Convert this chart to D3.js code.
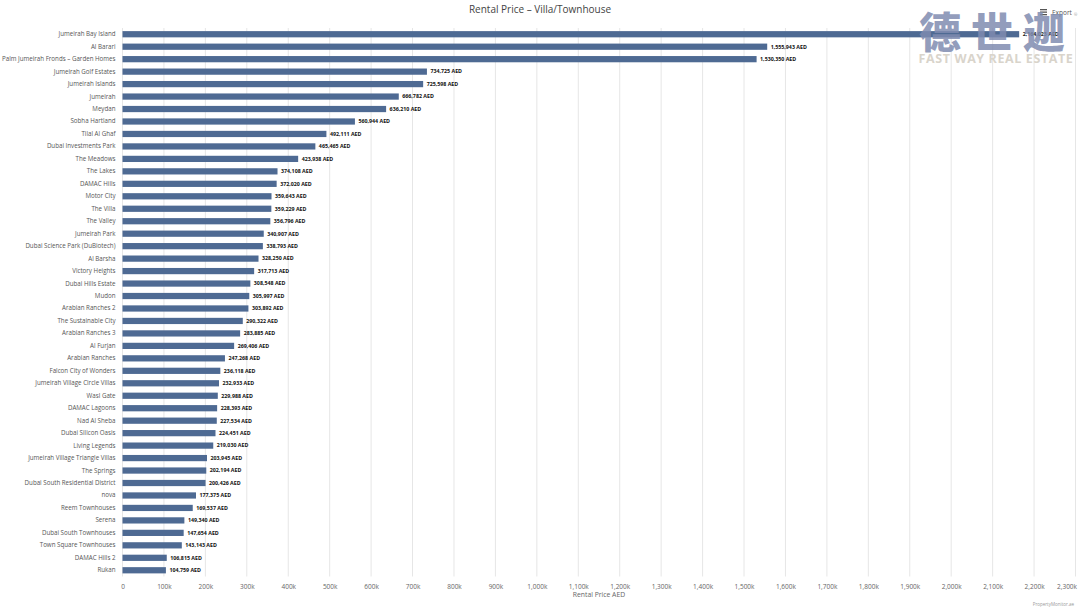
<!DOCTYPE html>
<html>
<head>
<meta charset="utf-8">
<script src="https://cdn.jsdelivr.net/npm/d3@7"></script>
<style>
  body { margin: 0; background: #fff; }
  svg { display: block; font-family: "Open Sans", "DejaVu Sans", sans-serif; }
</style>
</head>
<body>
<div id="chart"></div>
<script>
"use strict";

var communities = [
  "Jumeirah Bay Island", "Al Barari", "Palm Jumeirah Fronds \u2013 Garden Homes",
  "Jumeirah Golf Estates", "Jumeirah Islands", "Jumeirah", "Meydan", "Sobha Hartland",
  "Tilal Al Ghaf", "Dubai Investments Park", "The Meadows", "The Lakes", "DAMAC Hills",
  "Motor City", "The Villa", "The Valley", "Jumeirah Park", "Dubai Science Park (DuBiotech)",
  "Al Barsha", "Victory Heights", "Dubai Hills Estate", "Mudon", "Arabian Ranches 2",
  "The Sustainable City", "Arabian Ranches 3", "Al Furjan", "Arabian Ranches",
  "Falcon City of Wonders", "Jumeirah Village Circle Villas", "Wasl Gate", "DAMAC Lagoons",
  "Nad Al Sheba", "Dubai Silicon Oasis", "Living Legends", "Jumeirah Village Triangle Villas",
  "The Springs", "Dubai South Residential District", "nova", "Reem Townhouses", "Serena",
  "Dubai South Townhouses", "Town Square Townhouses", "DAMAC Hills 2", "Rukan"
];

var rentValues = [
  2164023, 1555943, 1530350, 734725, 725598, 666782, 636210, 560944,
  492111, 465465, 423938, 374108, 372020, 359643, 359229, 356796,
  340907, 338793, 328250, 317713, 308548, 305997, 303892, 290322,
  283885, 269406, 247268, 236118, 232933, 229988, 228393, 227534,
  224451, 219030, 203945, 202194, 200426, 177375, 169537, 149340,
  147654, 143143, 106815, 104759
];

var xTicks = [0, 100000, 200000, 300000, 400000, 500000, 600000, 700000, 800000, 900000,
  1000000, 1100000, 1200000, 1300000, 1400000, 1500000, 1600000, 1700000, 1800000,
  1900000, 2000000, 2100000, 2200000, 2300000];

var barColor = "#4e6a93";
var W = 1080, H = 608;
var plotLeft = 122.5, plotRight = 1075.5, plotTop = 28, plotBottom = 576.5;

var rows = communities.map(function(c, i) { return { name: c, value: rentValues[i] }; });

var svg = d3.select("#chart").append("svg")
  .attr("width", W)
  .attr("height", H);

var x = d3.scaleLinear().domain([0, 2300000]).range([plotLeft, plotRight]);
var y = d3.scaleBand().domain(communities).range([plotTop, plotBottom]).paddingInner(0.5).paddingOuter(0.25);

// grid
svg.append("g")
  .selectAll("line")
  .data(xTicks)
  .enter().append("line")
  .attr("x1", function(d) { return x(d); })
  .attr("x2", function(d) { return x(d); })
  .attr("y1", plotTop)
  .attr("y2", plotBottom)
  .attr("stroke", "#e6e6e6")
  .attr("stroke-width", 1);

// bars
svg.append("g")
  .selectAll("rect")
  .data(rows)
  .enter().append("rect")
  .attr("x", x(0))
  .attr("y", function(d) { return y(d.name); })
  .attr("width", function(d) { return x(d.value) - x(0); })
  .attr("height", y.bandwidth())
  .attr("fill", barColor);

// value labels
svg.append("g")
  .selectAll("text")
  .data(rows)
  .enter().append("text")
  .attr("x", function(d) { return x(d.value) + 3.5; })
  .attr("y", function(d) { return y(d.name) + y.bandwidth() / 2; })
  .attr("dy", "0.35em")
  .attr("font-size", 5.3)
  .attr("font-weight", "bold")
  .attr("fill", "#111")
  .text(function(d) { return d3.format(",")(d.value) + " AED"; });

// category axis
var yAxis = svg.append("g")
  .attr("transform", "translate(" + (plotLeft - 7) + ",0)")
  .style("color", "#555")
  .call(d3.axisLeft(y).tickSize(0).tickPadding(0));
yAxis.select(".domain").remove();
yAxis.selectAll("text")
  .attr("font-size", 6.2)
  .attr("fill", "#555")
  .attr("font-family", "\"Open Sans\", sans-serif");

// x axis
var xAxis = svg.append("g")
  .attr("transform", "translate(0," + (plotBottom + 2) + ")")
  .style("color", "#666")
  .call(d3.axisBottom(x).tickValues(xTicks).tickSize(0).tickPadding(6)
    .tickFormat(function(d) { return d === 0 ? "0" : d3.format(",")(d / 1000) + "k"; }));
xAxis.select(".domain").remove();
xAxis.selectAll("text")
  .attr("font-size", 6.5)
  .attr("fill", "#666")
  .attr("font-family", "\"Open Sans\", sans-serif");
xAxis.selectAll(".tick").filter(function(d) { return d === 2300000; })
  .select("text").attr("text-anchor", "end").attr("x", 1);

svg.append("text")
  .attr("x", (plotLeft + plotRight) / 2)
  .attr("y", 597)
  .attr("text-anchor", "middle")
  .attr("font-size", 6.8)
  .attr("fill", "#666")
  .text("Rental Price AED");

// title
svg.append("text")
  .attr("x", W / 2)
  .attr("y", 13)
  .attr("text-anchor", "middle")
  .attr("font-size", 10)
  .attr("fill", "#444")
  .text("Rental Price \u2013 Villa/Townhouse");

// credit
svg.append("text")
  .attr("x", 1074)
  .attr("y", 606)
  .attr("text-anchor", "end")
  .attr("font-size", 4.5)
  .attr("fill", "#999")
  .text("PropertyMonitor.ae");

// export menu
var menu = svg.append("g").attr("transform", "translate(1040,9)");
[0, 2.5, 5].forEach(function(o) {
  menu.append("rect").attr("x", 0).attr("y", o).attr("width", 7).attr("height", 1.3).attr("fill", "#555");
});
svg.append("text")
  .attr("x", 1052)
  .attr("y", 15)
  .attr("font-size", 6.5)
  .attr("fill", "#555")
  .text("Export");
svg.append("text")
  .attr("x", 1074)
  .attr("y", 16)
  .attr("font-size", 4)
  .attr("fill", "#999")
  .text("\u00ae");

// watermark
svg.append("text")
  .attr("x", 997)
  .attr("y", 48)
  .attr("text-anchor", "middle")
  .attr("font-family", "\"Noto Sans CJK SC\", sans-serif")
  .attr("font-weight", 900)
  .attr("font-size", 42)
  .attr("letter-spacing", 10)
  .attr("fill", "#7f8bb0")
  .attr("fill-opacity", 0.85)
  .text("\u5fb7\u4e16\u8fe6");
svg.append("text")
  .attr("x", 996)
  .attr("y", 63)
  .attr("text-anchor", "middle")
  .attr("font-family", "\"Open Sans\", sans-serif")
  .attr("font-weight", "bold")
  .attr("font-size", 12.5)
  .attr("letter-spacing", 0.6)
  .attr("fill", "#d9d4cb")
  .text("FAST WAY REAL ESTATE");
</script>
</body>
</html>
